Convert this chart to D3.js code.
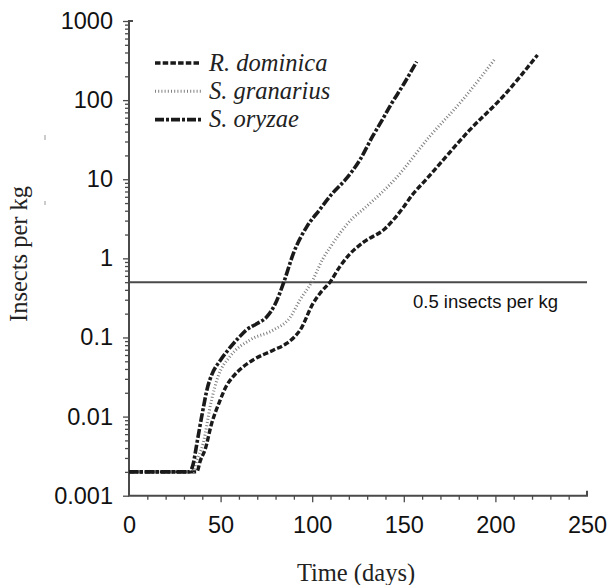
<!DOCTYPE html>
<html>
<head>
<meta charset="utf-8">
<script src="https://cdn.jsdelivr.net/npm/d3@7"></script>
<style>
body{margin:0;background:#fff;}
</style>
</head>
<body>
<div id="chart"></div>
<script>
// series (day, insects per kg)
var dominicaDays   = [0, 37, 39, 41.5, 45, 49.7, 53, 56.8, 62, 67.7, 78.7, 86, 90, 93.4, 100.5, 105, 109.7, 115, 120, 128, 140, 145, 150, 155, 162, 170, 186, 204, 223];
var dominicaValues = [0.002, 0.002, 0.0028, 0.0038, 0.008, 0.016, 0.024, 0.032, 0.042, 0.052, 0.069, 0.084, 0.1, 0.124, 0.27, 0.38, 0.5, 0.78, 1.1, 1.6, 2.4, 3.2, 4.5, 6.5, 9.8, 16, 42, 110, 372];

var granariusDays   = [0, 35, 37, 40.4, 45, 48.6, 55, 66, 78.7, 88, 93.4, 99.7, 106, 110, 122, 128, 146, 164, 182, 200];
var granariusValues = [0.002, 0.002, 0.0028, 0.0045, 0.016, 0.032, 0.057, 0.093, 0.124, 0.18, 0.3, 0.5, 1.0, 1.4, 3.2, 4.2, 10.5, 34.5, 100, 338];

var oryzaeDays   = [0, 33, 35, 37, 40, 43, 45, 50, 54, 60, 64, 70, 75, 80, 84.5, 90, 97, 104, 111, 118, 126, 133, 138, 143, 150, 157];
var oryzaeValues = [0.002, 0.002, 0.0025, 0.0045, 0.011, 0.024, 0.033, 0.052, 0.069, 0.1, 0.124, 0.15, 0.18, 0.27, 0.5, 1.2, 2.5, 4.1, 6.6, 9.8, 17.5, 35, 55, 88, 160, 306];

var seriesNames = ["R. dominica", "S. granarius", "S. oryzae"];
var xTicks = [0, 50, 100, 150, 200, 250];
var yTicks = [0.001, 0.01, 0.1, 1, 10, 100, 1000];
var yTickLabels = ["0.001", "0.01", "0.1", "1", "10", "100", "1000"];
var threshold = 0.5;
var thresholdLabel = "0.5 insects per kg";

var W = 611, H = 585;
var svg = d3.select("#chart").append("svg")
    .attr("width", W)
    .attr("height", H);

var x = d3.scaleLinear().domain([0, 250]).range([129, 587]);
var y = d3.scaleLog().domain([0.001, 1000]).range([495.7, 21]);

var axisColor = "#4a4a4a";
var sans = "'Liberation Sans', Arial, sans-serif";
var serif = "'Liberation Serif', 'Times New Roman', serif";

// y minor ticks 2..9 for each decade
var yMinor = [];
for (var d = 0; d < 6; d++) {
    for (var m = 2; m < 10; m++) {
        yMinor.push(m * Math.pow(10, d - 3));
    }
}
var xMinor = d3.range(0, 251, 10).filter(function (v) { return v % 50 != 0; });

// y axis
var gyMinor = svg.append("g").attr("transform", "translate(" + x(0) + ",0)")
    .call(d3.axisLeft(y).tickValues(yMinor).tickSize(4).tickFormat(""));
var gy = svg.append("g").attr("transform", "translate(" + x(0) + ",0)")
    .call(d3.axisLeft(y).tickValues(yTicks).tickSize(6).tickPadding(10)
        .tickFormat(function (v, i) { return yTickLabels[i]; }));

// x axis
var gxMinor = svg.append("g").attr("transform", "translate(0," + y(0.001) + ")")
    .call(d3.axisBottom(x).tickValues(xMinor).tickSize(4).tickFormat(""));
var gx = svg.append("g").attr("transform", "translate(0," + y(0.001) + ")")
    .call(d3.axisBottom(x).tickValues(xTicks.slice(1, 5)).tickSize(6.5).tickPadding(14).tickFormat(d3.format("d")));
var gx0 = svg.append("g").attr("transform", "translate(0," + y(0.001) + ")")
    .call(d3.axisBottom(x).tickValues([0, 250]).tickSize(0).tickPadding(20.5).tickFormat(d3.format("d")));

[gyMinor, gy, gxMinor, gx, gx0].forEach(function (g) {
    g.select(".domain").remove();
    g.selectAll(".tick line").attr("stroke", axisColor).attr("stroke-width", 1.3);
    g.selectAll(".tick text").attr("fill", "#111").style("font-family", sans).style("font-size", "23.5px");
});

// axis lines with the little end caps
svg.append("path")
    .attr("d", "M" + (x(0) + 4) + "," + y(1000) + "H" + x(0) + "V" + y(0.001) + "H" + x(250) + "V" + (y(0.001) - 5))
    .attr("fill", "none")
    .attr("stroke", axisColor)
    .attr("stroke-width", 2);

// threshold line
svg.append("line")
    .attr("x1", x(0)).attr("x2", x(250))
    .attr("y1", y(threshold)).attr("y2", y(threshold))
    .attr("stroke", axisColor)
    .attr("stroke-width", 2);
svg.append("text")
    .attr("x", 413).attr("y", y(threshold) + 26)
    .style("font-family", sans).style("font-size", "18.5px")
    .attr("fill", "#111")
    .text(thresholdLabel);

// series
var styles = [
    {dash: "5.5,2.2", width: 3.4, color: "#1a1a1a"},
    {dash: "1,2.2", width: 3, color: "#808080"},
    {dash: "9,2,3,2", width: 3.6, color: "#1a1a1a"}
];
var seriesData = [
    d3.zip(dominicaDays, dominicaValues),
    d3.zip(granariusDays, granariusValues),
    d3.zip(oryzaeDays, oryzaeValues)
];

var line = d3.line()
    .x(function (d) { return x(d[0]); })
    .y(function (d) { return y(d[1]); })
    .curve(d3.curveMonotoneX);

seriesData.forEach(function (s, i) {
    svg.append("path")
        .datum(s)
        .attr("d", line)
        .attr("fill", "none")
        .attr("stroke", styles[i].color)
        .attr("stroke-width", styles[i].width)
        .attr("stroke-dasharray", styles[i].dash);
});

// legend
var legend = svg.append("g");
seriesNames.forEach(function (name, i) {
    var ly = 63 + i * 28.3;
    legend.append("line")
        .attr("x1", 155).attr("x2", 201)
        .attr("y1", ly).attr("y2", ly)
        .attr("stroke", styles[i].color)
        .attr("stroke-width", styles[i].width)
        .attr("stroke-dasharray", styles[i].dash);
    legend.append("text")
        .attr("x", 209).attr("y", ly + 7.5)
        .style("font-family", serif).style("font-style", "italic").style("font-size", "24.5px")
        .attr("fill", "#222")
        .text(name);
});

// axis titles
svg.append("text")
    .attr("x", 356).attr("y", 581)
    .attr("text-anchor", "middle")
    .style("font-family", serif).style("font-size", "24.5px")
    .attr("fill", "#222")
    .text("Time (days)");

svg.append("text")
    .attr("transform", "translate(27,254) rotate(-90)")
    .attr("text-anchor", "middle")
    .style("font-family", serif).style("font-size", "24.5px")
    .attr("fill", "#222")
    .text("Insects per kg");

// two faint stray marks left of the axis in the original
svg.append("line").attr("x1", 45).attr("x2", 45).attr("y1", 135).attr("y2", 140)
    .attr("stroke", "#999").attr("stroke-width", 1);
svg.append("line").attr("x1", 45).attr("x2", 45).attr("y1", 201).attr("y2", 205)
    .attr("stroke", "#999").attr("stroke-width", 1);
</script>
</body>
</html>
